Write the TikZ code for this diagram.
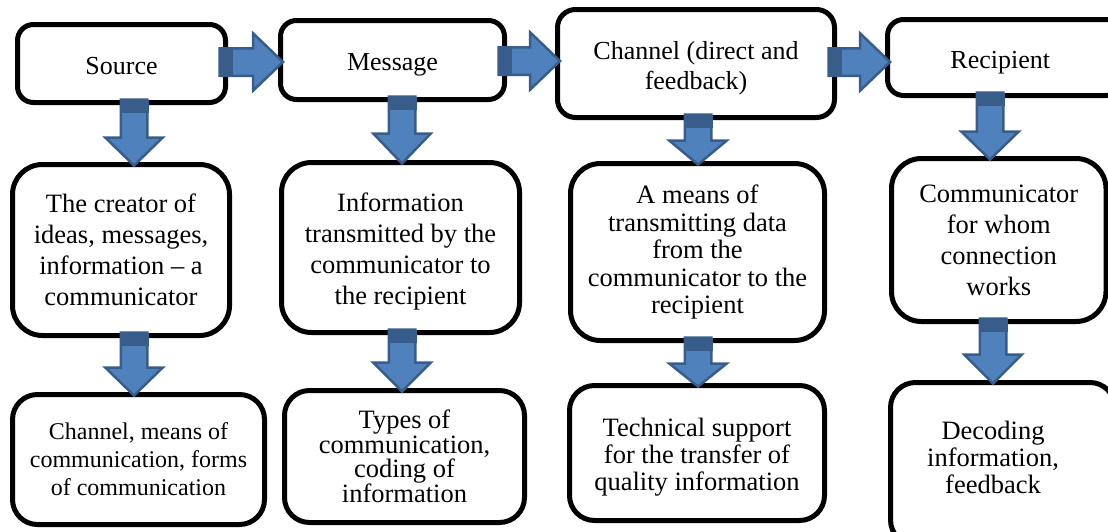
\documentclass[tikz,border=0pt]{standalone}
\usepackage{fontspec}
\setmainfont{Liberation Serif}
\usetikzlibrary{calc}
\definecolor{afill}{HTML}{4F81BD}
\definecolor{aline}{HTML}{385D8A}
\tikzset{
  box/.style={draw=black, line width=5pt, rounded corners=#1, fill=white,
              inner sep=0pt, outer sep=0pt, align=center},
  box/.default=18pt,
  ftop/.style={font=\fontsize{26}{30}\selectfont},
  fone/.style={font=\fontsize{26}{30}\selectfont, text height=22pt, text depth=1pt},
  fmid/.style={font=\fontsize{26.5}{31}\selectfont},
  blkarrow/.style={fill=afill, draw=aline, line width=2.5pt, line join=miter},
  band/.style={fill=aline}
}
% vertical block arrow: #1 x, #2 from node, #3 to node, #4 head length
\newcommand\DArr[4]{%
  \draw[blkarrow] let \p1=(#2.south), \p2=(#3.north) in
    ({#1pt-13.25pt},{\y1+3pt}) -- ({#1pt+13.25pt},{\y1+3pt})
    -- ({#1pt+13.25pt},{\y2-1pt+#4pt}) -- ({#1pt+28.75pt},{\y2-1pt+#4pt})
    -- ({#1pt},{\y2-1pt}) -- ({#1pt-28.75pt},{\y2-1pt+#4pt})
    -- ({#1pt-13.25pt},{\y2-1pt+#4pt}) -- cycle;
  \fill[band] let \p1=(#2.south) in
    ({#1pt-14.5pt},{\y1+3pt}) rectangle ({#1pt+14.5pt},{\y1-10pt});
}
% horizontal block arrow: #1 y (screen), #2 from node, #3 to node
\newcommand\RArr[3]{%
  \draw[blkarrow] let \p1=(#2.east), \p2=(#3.west) in
    ({\x1-6pt},{-#1pt+13.75pt}) -- ({\x2-27.5pt},{-#1pt+13.75pt})
    -- ({\x2-27.5pt},{-#1pt+28.75pt}) -- ({\x2+2.5pt},{-#1pt})
    -- ({\x2-27.5pt},{-#1pt-28.75pt}) -- ({\x2-27.5pt},{-#1pt-13.75pt})
    -- ({\x1-6pt},{-#1pt-13.75pt}) -- cycle;
  \fill[band] let \p1=(#2.east) in
    ({\x1-6pt},{-#1pt+15pt}) rectangle ({\x1+7pt},{-#1pt-15pt});
}
\begin{document}
\begin{tikzpicture}[x=1pt, y=-1pt]
\useasboundingbox (0,0) rectangle (1108,531);
\clip (0,0) rectangle (1108,531);
\fill[white] (0,0) rectangle (1108,531);

% top row
\node[box=16pt, minimum width=208pt, minimum height=78pt, fone] (src) at (121.5,63.5) {Source};
\node[box=16pt, minimum width=224pt, minimum height=79pt, fone] (msg) at (392.5,60) {Message};
\node[box=18pt, minimum width=277pt, minimum height=108pt, ftop] (chan) at (696,63.5) {\rule{0pt}{28pt}Channel (direct and\\feedback)};
\node[box=16pt, minimum width=234.5pt, minimum height=76pt, fone] (rec) at (1004.75,57.5) {Recipient\hspace{9pt}};

% middle row
\node[box=30pt, minimum width=217pt, minimum height=171pt, fmid] (m1) at (121,250)
  {The creator of\\ideas, messages,\\information -- a\\communicator};
\node[box=30pt, minimum width=238pt, minimum height=170pt, fmid] (m2) at (400.5,247.5)
  {\rule{0pt}{26pt}Information\\transmitted by the\\communicator to\\the recipient};
\node[box=30pt, minimum width=254pt, minimum height=177pt, font=\fontsize{26.5}{27.5}\selectfont] (m3) at (697.5,252)
  {A means of\\transmitting data\\from the\\communicator to the\\recipient};
\node[box=30pt, minimum width=214.5pt, minimum height=163pt, fmid] (m4) at (998.75,240)
  {Communicator\\for whom\\connection\\works};

% bottom row
\node[box=25pt, minimum width=252pt, minimum height=130pt, font=\fontsize{24}{28}\selectfont] (b1) at (138.5,459.5)
  {Channel, means of\\communication, forms\\of communication};
\node[box=25pt, minimum width=240pt, minimum height=132pt, font=\fontsize{26.5}{24.5}\selectfont] (b2) at (404.5,456.5)
  {Types of\\communication,\\coding of\\information};
\node[box=25pt, minimum width=255pt, minimum height=135pt, font=\fontsize{26.5}{27}\selectfont] (b3) at (697,453)
  {\rule{0pt}{26pt}Technical support\\for the transfer of\\quality information};
\node[box=25pt, minimum width=224.5pt, minimum height=162.5pt] (b4) at (1002.75,463.75) {};
\node[align=center, inner sep=0pt, font=\fontsize{26.5}{27}\selectfont] (b4t) at (993,457)
  {Decoding\\information,\\feedback};

% arrows
\RArr{62}{src}{msg}
\RArr{61}{msg}{chan}
\RArr{62}{chan}{rec}
\DArr{134}{src}{m1}{28}
\DArr{402}{msg}{m2}{30}
\DArr{698}{chan}{m3}{24}
\DArr{990}{rec}{m4}{28}
\DArr{134}{m1}{b1}{28}
\DArr{402}{m2}{b2}{29}
\DArr{698}{m3}{b3}{23}
\DArr{993}{m4}{b4}{29}
\end{tikzpicture}
\end{document}
